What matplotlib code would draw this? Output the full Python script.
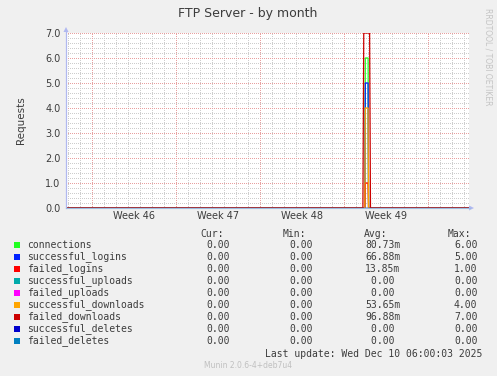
"""FTP Server - by month (munin / rrdtool style)."""

import numpy as np
import matplotlib

matplotlib.use("Agg")
import matplotlib.pyplot as plt  # noqa: E402
from matplotlib.transforms import blended_transform_factory  # noqa: E402

# --------------------------------------------------------------------------- #
# Données (x en jours depuis le lundi 10 nov. 2025)
# --------------------------------------------------------------------------- #
t_days = [-2.14, 22.60, 22.67, 22.76, 22.80, 23.03, 23.07, 23.16, 23.23, 31.44]

connections = [0, 0, 0, 0, 6, 6, 0, 0, 0, 0]
successful_logins = [0, 0, 0, 0, 5, 5, 0, 0, 0, 0]
failed_logins = [0, 0, 0, 0, 1, 1, 0, 0, 0, 0]
successful_uploads = [0, 0, 0, 0, 0, 0, 0, 0, 0, 0]
failed_uploads = [0, 0, 0, 0, 0, 0, 0, 0, 0, 0]
successful_downloads = [0, 0, 0, 0, 4, 4, 0, 0, 0, 0]
failed_downloads = [0, 0, 7, 7, 7, 7, 7, 7, 0, 0]
successful_deletes = [0, 0, 0, 0, 0, 0, 0, 0, 0, 0]
failed_deletes = [0, 0, 0, 0, 0, 0, 0, 0, 0, 0]

series_names = [
    "connections", "successful_logins", "failed_logins", "successful_uploads",
    "failed_uploads", "successful_downloads", "failed_downloads",
    "successful_deletes", "failed_deletes",
]
series_values = [
    connections, successful_logins, failed_logins, successful_uploads,
    failed_uploads, successful_downloads, failed_downloads,
    successful_deletes, failed_deletes,
]
series_colors = [
    "#22ff22", "#0022ff", "#ff0000", "#00aaaa", "#ff00ff",
    "#ffa500", "#cc0000", "#0000cc", "#0080c0",
]

cur_vals = ["0.00"] * 9
min_vals = ["0.00"] * 9
avg_vals = ["80.73m", "66.88m", "13.85m", "0.00 ", "0.00 ", "53.65m", "96.88m", "0.00 ", "0.00 "]
max_vals = ["6.00", "5.00", "1.00", "0.00", "0.00", "4.00", "7.00", "0.00", "0.00"]

week_starts = [0, 7, 14, 21, 28]
week_labels = ["Week 46", "Week 47", "Week 48", "Week 49"]
y_ticks = [0, 1, 2, 3, 4, 5, 6, 7]
y_labels = ["0.0", "1.0", "2.0", "3.0", "4.0", "5.0", "6.0", "7.0"]

x_min, x_max = -2.14, 31.44

# --------------------------------------------------------------------------- #
# Figure
# --------------------------------------------------------------------------- #
W, H = 497, 376
BG = "#f0f0f0"
TXT = "#3c3c3c"
MONO = "DejaVu Sans Mono"

fig = plt.figure(figsize=(W / 100, H / 100), dpi=100, facecolor=BG)
ax = fig.add_axes([66 / W, 1 - 208 / H, (469 - 66) / W, 175 / H])
ax.set_facecolor("white")
ax.set_xlim(x_min, x_max)
ax.set_ylim(0, 7)
for sp in ax.spines.values():
    sp.set_visible(False)

# grille mineure / majeure (pointillés façon rrdtool)
dots = (0, (1, 2))
minor_x = [d for d in range(-2, 32) if d not in week_starts]
minor_y = [v / 5 for v in range(0, 36) if v % 5]
grid_kw = dict(lw=0.72, linestyles=dots, zorder=1, antialiased=False)
ax.vlines(minor_x, 0, 7, colors="#cdcdcd", **grid_kw)
ax.hlines(minor_y, x_min, x_max, colors="#cdcdcd", **grid_kw)
ax.vlines(week_starts, 0, 7, colors="#e8a0a0", **grid_kw)
ax.hlines(y_ticks[1:], x_min, x_max, colors="#e8a0a0", **grid_kw)

for vals, col in zip(series_values, series_colors):
    ax.plot(t_days, vals, color=col, lw=0.9, zorder=3)

ax.set_yticks(y_ticks)
ax.set_yticklabels(y_labels)
ax.set_xticks([])
ax.tick_params(axis="y", length=0, pad=4, labelsize=7, labelcolor=TXT)
ax.set_ylabel("Requests", fontsize=7.5, color=TXT, labelpad=14)

trans = blended_transform_factory(ax.transData, ax.transAxes)
for ws, lab in zip(week_starts, week_labels):
    ax.text(ws + 3.5, -0.045, lab, transform=trans, ha="center", va="center",
            fontsize=7, color=TXT)

# axes avec flèches
axis_col = "#b0b8f0"
fig.add_artist(plt.Line2D([66 / W, 66 / W], [1 - 208 / H, 1 - 30 / H], color=axis_col, lw=0.9))
fig.add_artist(plt.Polygon([[63.5 / W, 1 - 32 / H], [68.5 / W, 1 - 32 / H], [66 / W, 1 - 27 / H]],
                           closed=True, color=axis_col, lw=0))
fig.add_artist(plt.Line2D([66 / W, 470 / W], [1 - 208 / H, 1 - 208 / H], color="#9cbce0", lw=0.8))
fig.add_artist(plt.Polygon([[469 / W, 1 - 205.5 / H], [469 / W, 1 - 210.5 / H], [474 / W, 1 - 208 / H]],
                           closed=True, color=axis_col, lw=0))

fig.text(248 / W, 1 - 13 / H, "FTP Server - by month", ha="center", va="center",
         fontsize=9, color=TXT)
fig.text(488 / W, 1 - 57 / H, "RRDTOOL / TOBI OETIKER", ha="center", va="center",
         rotation=270, fontsize=5.5, color="#c4c4c4")

# --------------------------------------------------------------------------- #
# Légende
# --------------------------------------------------------------------------- #
fs = 7
hy = 234
for x, lab in zip([200, 283, 364, 448], ["Cur:", "Min:", "Avg:", "Max:"]):
    fig.text(x / W, 1 - hy / H, lab, ha="left", va="center", family=MONO, fontsize=fs, color=TXT)

for i, name in enumerate(series_names):
    y = 245 + 12 * i
    fig.add_artist(plt.Rectangle((14 / W, 1 - (y + 3) / H), 6 / W, 6 / H,
                                 color=series_colors[i], lw=0))
    fig.text(27 / W, 1 - y / H, name, ha="left", va="center", family=MONO, fontsize=fs, color=TXT)
    fig.text(229.5 / W, 1 - y / H, cur_vals[i], ha="right", va="center", family=MONO, fontsize=fs, color=TXT)
    fig.text(312.5 / W, 1 - y / H, min_vals[i], ha="right", va="center", family=MONO, fontsize=fs, color=TXT)
    fig.text(400.5 / W, 1 - y / H, avg_vals[i], ha="right", va="center", family=MONO, fontsize=fs, color=TXT)
    fig.text(477.5 / W, 1 - y / H, max_vals[i], ha="right", va="center", family=MONO, fontsize=fs, color=TXT)

fig.text(482.5 / W, 1 - 354 / H, "Last update: Wed Dec 10 06:00:03 2025", ha="right", va="center",
         family=MONO, fontsize=fs, color=TXT)
fig.text(248 / W, 1 - 366 / H, "Munin 2.0.6-4+deb7u4", ha="center", va="center",
         fontsize=5.5, color="#c0c0c0")

fig.savefig("out.png", dpi=100, facecolor=BG)
